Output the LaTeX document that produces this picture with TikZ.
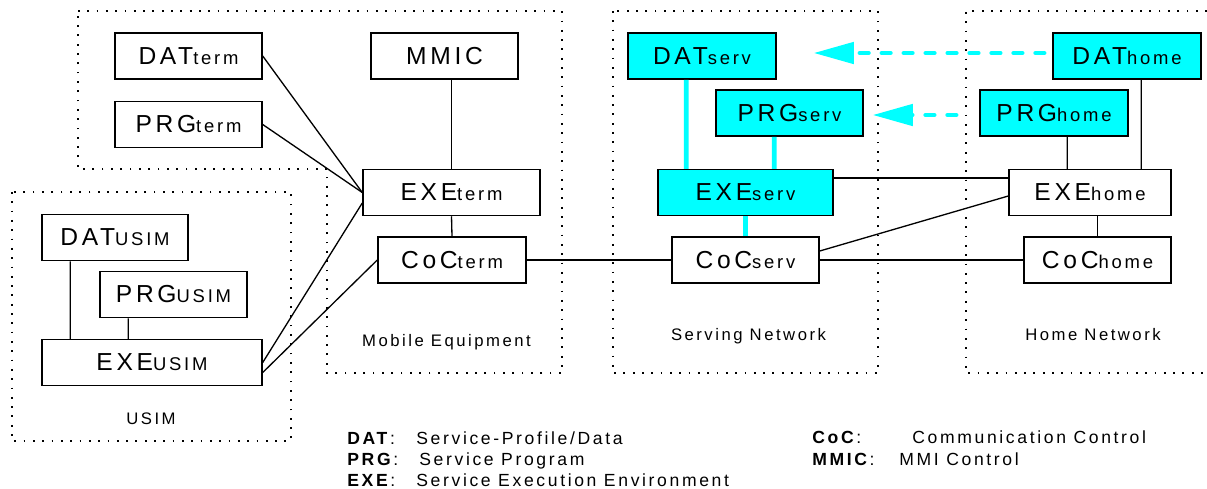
\documentclass[tikz,border=0pt]{standalone}
\usepackage{fontspec}
\setmainfont{Liberation Sans}[LetterSpace=15]
\usetikzlibrary{calc}
\usetikzlibrary{arrows.meta}
\definecolor{aqua}{RGB}{0,255,255}
\newcommand{\unitlabel}[2]{{\fontsize{14}{16}\selectfont #1}{\fontsize{10.5}{12}\selectfont #2}}

\tikzset{
  unitbox/.style={draw, line width=0.85pt, fill=white, minimum height=0.92cm, inner sep=0pt},
  servbox/.style={unitbox, fill=aqua},
  zone/.style={line width=1pt, dash pattern=on 1pt off 4.3pt},
  zonelabel/.style={anchor=base, inner sep=0pt, font=\fontsize{9.5}{11}\selectfont},
  wire/.style={line width=0.75pt},
  cyanwire/.style={aqua, line width=2.7pt},
  transfer/.style={aqua, line width=2.5pt, dash pattern=on 5pt off 7.5pt, line cap=round,
    -{Triangle[length=22.8pt,width=12pt]}},
  legend/.style={anchor=base west, inner sep=0pt, font=\fontsize{10}{12}\selectfont}
}

\begin{document}
\begin{tikzpicture}[x=0.02cm, y=-0.02cm]
\useasboundingbox (0,0) rectangle (1207,488);
% the dotted areas
\draw[zone] (78,11) -- (562,11) -- (562,373) -- (327,373) -- (327,169) -- (78,169) -- cycle;
\draw[zone] (12,192) rectangle (291,441);
\draw[zone] (613,11) rectangle (878,373);
\draw[zone] (1207,11) -- (966,11) -- (966,373) -- (1207,373);
\node[zonelabel] (melabel) at (446.5,346) {Mobile Equipment};
\node[zonelabel] (usimlabel) at (151,424) {USIM};
\node[zonelabel] (snlabel) at (748.5,340) {Serving Network};
\node[zonelabel] (hnlabel) at (1093,340) {Home Network};
% terminal
\node[unitbox, minimum width=2.94cm] (DATterm) at (188.5,56) {\unitlabel{DAT}{term}};
\node[unitbox, minimum width=2.94cm] (PRGterm) at (188.5,124.5) {\unitlabel{PRG}{term}};
\node[unitbox, minimum width=2.94cm] (MMIC) at (444.5,56) {\unitlabel{MMIC}{}};
\node[unitbox, minimum width=3.54cm] (EXEterm) at (451.5,192.5) {\unitlabel{EXE}{term}};
\node[unitbox, minimum width=2.96cm] (CoCterm) at (452,260) {\unitlabel{CoC}{term}};
% USIM
\node[unitbox, minimum width=2.92cm] (DATusim) at (115,237.5) {\unitlabel{DAT}{USIM}};
\node[unitbox, minimum width=2.94cm] (PRGusim) at (173.5,294.5) {\unitlabel{PRG}{USIM}};
\node[unitbox, minimum width=4.4cm] (EXEusim) at (152,362.5) {\unitlabel{EXE}{USIM}};
% serving network
\node[servbox, minimum width=2.96cm] (DATserv) at (702,56) {\unitlabel{DAT}{serv}};
\node[servbox, minimum width=2.94cm] (PRGserv) at (789.5,113) {\unitlabel{PRG}{serv}};
\node[servbox, minimum width=3.5cm] (EXEserv) at (745.5,192.5) {\unitlabel{EXE}{serv}};
\node[unitbox, minimum width=2.94cm] (CoCserv) at (745.5,260) {\unitlabel{CoC}{serv}};
% home network
\node[servbox, minimum width=2.96cm] (DAThome) at (1127,56) {\unitlabel{DAT}{home}};
\node[servbox, minimum width=2.96cm] (PRGhome) at (1054,113) {\unitlabel{PRG}{home}};
\node[unitbox, minimum width=3.24cm] (EXEhome) at (1090,192.5) {\unitlabel{EXE}{home}};
\node[unitbox, minimum width=2.94cm] (CoChome) at (1097.5,260) {\unitlabel{CoC}{home}};
% connections
\draw[wire] (DATterm.east) -- (EXEterm.west);
\draw[wire] (PRGterm.east) -- (EXEterm.west);
\draw[wire] (EXEterm.north) -- (EXEterm.north |- MMIC.south);
\draw[wire] (EXEterm.south) -- (CoCterm.north);
\draw[wire] ($(DATusim.south west)+(29,0)$) -- ($(EXEusim.north west)+(29,0)$);
\draw[wire] ($(PRGusim.south west)+(29,0)$) -- ($(EXEusim.north west)+(87,0)$);
\draw[wire] (EXEusim.east) -- ($(EXEterm.west)+(0,10.5)$);
\draw[wire] ($(EXEusim.east)+(0,10)$) -- (CoCterm.west);
\draw[wire] (CoCterm.east) -- (CoCserv.west);
\draw[wire] (CoCserv.east) -- (CoChome.west);
\draw[wire] ($(CoCserv.east)+(0,-9)$) -- ($(EXEhome.west)+(0,3.5)$);
\draw[wire] ($(EXEserv.east)+(0,-14.5)$) -- ($(EXEhome.west)+(0,-14.5)$);
\draw[wire] ($(PRGhome.south west)+(88,0)$) -- ($(EXEhome.north west)+(59,0)$);
\draw[wire] ($(DAThome.south west)+(89,0)$) -- ($(EXEhome.north west)+(133,0)$);
\draw[wire] (CoChome.north) -- (CoChome.north |- EXEhome.south);
%     cyan links
\draw[cyanwire] ($(DATserv.south west)+(59,0)$) -- ($(EXEserv.north west)+(29,0)$);
\draw[cyanwire] ($(PRGserv.south west)+(59,0)$) -- ($(EXEserv.north west)+(117,0)$);
\draw[cyanwire] (EXEserv.south) -- (CoCserv.north);
\draw[transfer] ($(DAThome.west)+(-8,-3)$) -- ($(DATserv.east)+(37,-3)$);
\draw[transfer] ($(PRGhome.west)+(-23,2)$) -- ($(PRGserv.east)+(9,2)$);
% legend
\node[legend] (keyDAT) at (347,444) {\textbf{DAT}:};
\node[legend] (descDAT) at (416,444) {Service-Profile/Data};
\node[legend] (keyPRG) at (347,465) {\textbf{PRG}:};
\node[legend] (descPRG) at (419,465) {Service Program};
\node[legend] (keyEXE) at (347,486) {\textbf{EXE}:};
\node[legend] (descEXE) at (416,486) {Service Execution Environment};
\node[legend] (keyCoC) at (812,443) {\textbf{CoC}:};
\node[legend] (descCoC) at (912,443) {Communication Control};
\node[legend] (keyMMIC) at (812,465) {\textbf{MMIC}:};
\node[legend] (descMMIC) at (899,465) {MMI Control};
\end{tikzpicture}
\end{document}
